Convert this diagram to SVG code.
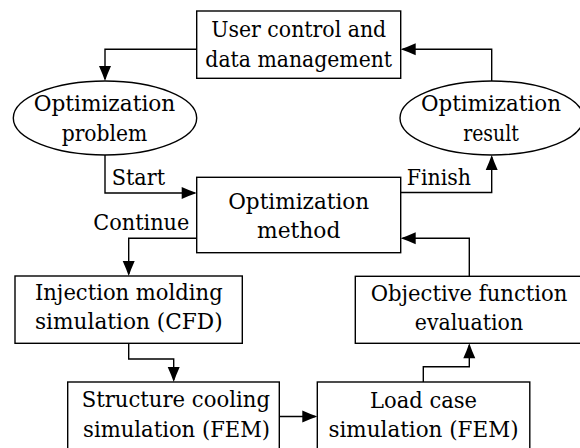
<svg xmlns="http://www.w3.org/2000/svg" width="580" height="448" viewBox="0 0 580 448">
<style>
.n{fill:#fff;stroke:#000;stroke-width:1.4}
.t{text-anchor:middle}
.c{fill:none;stroke:#000;stroke-width:1.4}
</style>
<defs>
<marker id="ah" viewBox="-16 -6.5 17 13" refX="-2" refY="0" markerWidth="17" markerHeight="13" markerUnits="userSpaceOnUse" orient="auto">
<path d="M0 0 Q-7 -2.4 -15 -6 L-15 6 Q-7 2.4 0 0 Z" fill="#000"/>
</marker>
</defs>
<g id="connectors">
<path class="c" marker-end="url(#ah)" d="M196.7 49.3 H105 V79"/>
<path class="c" marker-end="url(#ah)" d="M491.7 81 V49.3 H402.7"/>
<path class="c" marker-end="url(#ah)" d="M105 155 V193 H194.7"/>
<path class="c" marker-end="url(#ah)" d="M400.7 192.5 H491.7 V157"/>
<path class="c" marker-end="url(#ah)" d="M196.7 238.3 H128.7 V274"/>
<path class="c" marker-end="url(#ah)" d="M128.7 343.3 V359 H173.7 V380"/>
<path class="c" marker-end="url(#ah)" d="M279.3 416.5 H315.3"/>
<path class="c" marker-end="url(#ah)" d="M423.3 382 V366.7 H469.3 V345.3"/>
<path class="c" marker-end="url(#ah)" d="M469.3 276.7 V238.3 H402.7"/>
</g>
<g font-family="DejaVu Serif, serif" font-size="22" fill="#000">
<g id="user">
<rect class="n" x="196.7" y="11" width="204" height="67.3"/>
<text class="t" x="298.7" y="37.3" textLength="175" lengthAdjust="spacingAndGlyphs">User control and</text>
<text class="t" x="298.7" y="66.7" textLength="186.7" lengthAdjust="spacingAndGlyphs">data management</text>
</g>
<g id="problem">
<ellipse class="n" cx="105" cy="118" rx="91.7" ry="37"/>
<text class="t" x="104.5" y="111" textLength="141.7" lengthAdjust="spacingAndGlyphs">Optimization</text>
<text class="t" x="104.5" y="140.5" textLength="85.7" lengthAdjust="spacingAndGlyphs">problem</text>
</g>
<g id="result">
<ellipse class="n" cx="491.7" cy="118" rx="91.7" ry="37"/>
<text class="t" x="491" y="111" textLength="140" lengthAdjust="spacingAndGlyphs">Optimization</text>
<text class="t" x="491" y="140.5" textLength="55.6" lengthAdjust="spacingAndGlyphs">result</text>
</g>
<g id="method">
<rect class="n" x="196.7" y="177.3" width="204" height="75.4"/>
<text class="t" x="298.7" y="209.3" textLength="141" lengthAdjust="spacingAndGlyphs">Optimization</text>
<text class="t" x="298.7" y="238.3" textLength="83.3" lengthAdjust="spacingAndGlyphs">method</text>
</g>
<g id="injection">
<rect class="n" x="15" y="276" width="227.3" height="67.3"/>
<text class="t" x="128.8" y="300" textLength="187.7" lengthAdjust="spacingAndGlyphs">Injection molding</text>
<text class="t" x="128.8" y="329" textLength="187.7" lengthAdjust="spacingAndGlyphs">simulation (CFD)</text>
</g>
<g id="objective">
<rect class="n" x="355.3" y="276.3" width="227.3" height="67"/>
<text class="t" x="469" y="301" textLength="196.7" lengthAdjust="spacingAndGlyphs">Objective function</text>
<text class="t" x="469" y="330" textLength="108.3" lengthAdjust="spacingAndGlyphs">evaluation</text>
</g>
<g id="structure">
<rect class="n" x="67.7" y="382" width="211.6" height="68"/>
<text class="t" x="175.8" y="407" textLength="188.3" lengthAdjust="spacingAndGlyphs">Structure cooling</text>
<text class="t" x="176.6" y="436.5" textLength="187" lengthAdjust="spacingAndGlyphs">simulation (FEM)</text>
</g>
<g id="load">
<rect class="n" x="317.3" y="382" width="212.5" height="68"/>
<text class="t" x="423.5" y="407.5" textLength="107" lengthAdjust="spacingAndGlyphs">Load case</text>
<text class="t" x="423.5" y="436.5" textLength="190" lengthAdjust="spacingAndGlyphs">simulation (FEM)</text>
</g>
<g id="labels">
<text x="111.7" y="184.7" textLength="53.3" lengthAdjust="spacingAndGlyphs">Start</text>
<text x="406.7" y="185" textLength="64.3" lengthAdjust="spacingAndGlyphs">Finish</text>
<text x="93.3" y="230" textLength="96" lengthAdjust="spacingAndGlyphs">Continue</text>
</g>
</g>
</svg>
